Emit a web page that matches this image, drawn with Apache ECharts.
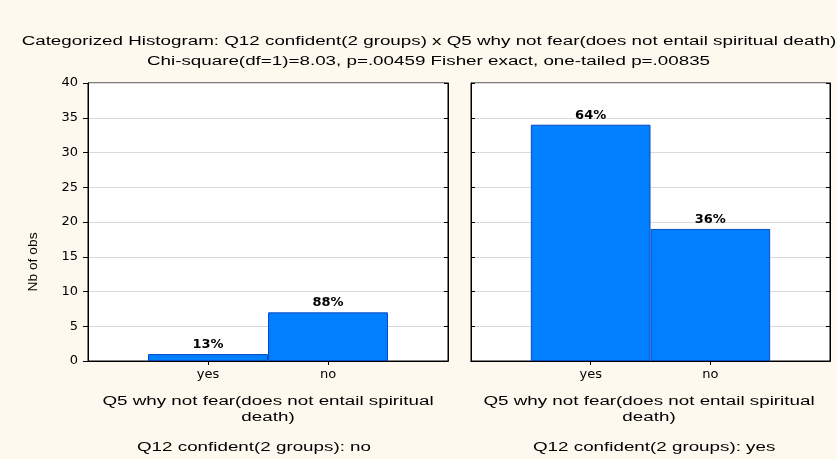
<!DOCTYPE html>
<html><head><meta charset="utf-8">
<script src="https://cdn.jsdelivr.net/npm/echarts@6/dist/echarts.min.js"></script>
<style>html,body{margin:0;padding:0;background:#fdf9ee}#c{width:837px;height:459px}</style>
</head><body><div id="c"></div>
<script>
// ---- data ----
const categories = ['yes', 'no'];
const countsGroupNo = [1, 7];     // Q12 confident(2 groups): no
const countsGroupYes = [34, 19];  // Q12 confident(2 groups): yes
const pctGroupNo = ['13%', '88%'];
const pctGroupYes = ['64%', '36%'];
const yMin = 0, yMax = 40, yStep = 5;
const titleLines = [
  'Categorized Histogram: Q12 confident(2 groups) x Q5 why not fear(does not entail spiritual death)',
  'Chi-square(df=1)=8.03, p=.00459 Fisher exact, one-tailed p=.00835'
];
const xNameLines = ['Q5 why not fear(does not entail spiritual', 'death)'];
const panelNames = ['Q12 confident(2 groups): no', 'Q12 confident(2 groups): yes'];
const yName = 'Nb of obs';

// ---- build ----
const axisCats = [''].concat(categories, ['']);
const panels = [
  {counts: countsGroupNo, pct: pctGroupNo},
  {counts: countsGroupYes, pct: pctGroupYes}
];
const S = 1.566;
const tickFont = 'DejaVu Sans';
const txtFont = '"Liberation Sans", Arial, sans-serif';

const grids = [
  {left: 88, top: 83, width: 360, height: 278},
  {left: 471, top: 83, width: 359, height: 278}
].map(g => Object.assign(g, {show: true, backgroundColor: '#ffffff', borderColor: '#000', borderWidth: 1, containLabel: false}));

const xAxes = [], yAxes = [], series = [];
panels.forEach((p, g) => {
  ['bottom', 'top'].forEach(pos => {
    xAxes.push({
      type: 'category', gridIndex: g, position: pos, data: axisCats, boundaryGap: false,
      axisLine: {show: true, lineStyle: {color: '#000', width: 1}},
      axisTick: {show: true, inside: true, length: 4, interval: (i) => i === 1 || i === 2, lineStyle: {color: '#000'}},
      axisLabel: {show: pos === 'bottom', interval: 0, margin: 7, color: '#000', fontFamily: tickFont, fontSize: 13},
      splitLine: {show: false}
    });
  });
  ['left', 'right'].forEach(pos => {
    const outer = (g === 0 && pos === 'left');
    yAxes.push({
      type: 'value', gridIndex: g, position: pos, min: yMin, max: yMax, interval: yStep,
      axisLine: {show: true, lineStyle: {color: '#000', width: 1}},
      axisTick: {show: true, inside: !outer, length: outer ? 5 : 4, lineStyle: {color: '#000'}},
      axisLabel: {show: outer, margin: 10, color: '#000', fontFamily: tickFont, fontSize: 13},
      splitLine: {show: pos === 'left', lineStyle: {color: '#d9d9d9', width: 1}}
    });
  });
  series.push({
    type: 'bar', xAxisIndex: 2 * g, yAxisIndex: 2 * g,
    data: ['-'].concat(p.counts, ['-']),
    barWidth: '100%',
    itemStyle: {color: '#0080ff', borderColor: '#0a4bc4', borderWidth: 1},
    label: {
      show: true, position: 'top', distance: 3, color: '#000',
      fontFamily: tickFont, fontWeight: 'bold', fontSize: 13,
      formatter: (prm) => p.pct[prm.dataIndex - 1]
    },
    silent: true
  });
});

function txt(text, x, y, opts) {
  opts = opts || {};
  return {
    type: 'text', x: x, y: y, scaleX: opts.scaleX || S, scaleY: opts.scaleY || 1,
    rotation: opts.rotation || 0, silent: true,
    style: {
      text: text, fill: '#000', font: '12px ' + txtFont, fontSize: 12, fontFamily: txtFont,
      align: opts.align || 'center', verticalAlign: 'middle',
      textAlign: opts.align || 'center', textVerticalAlign: 'middle'
    }
  };
}

const graphics = [
  txt(titleLines[0], 429, 42),
  txt(titleLines[1], 428.5, 61.5),
  txt(xNameLines[0], 268, 402),
  txt(xNameLines[1], 268, 418),
  txt(xNameLines[0], 649, 402),
  txt(xNameLines[1], 649, 418),
  txt(panelNames[0], 137, 447.5, {align: 'left'}),
  txt(panelNames[1], 533, 447.5, {align: 'left'}),
  txt(yName, 34, 262, {rotation: Math.PI / 2, scaleX: 1.15, scaleY: 1.05})
];

const chart = echarts.init(document.getElementById('c'), null, {renderer: 'canvas'});
chart.setOption({
  backgroundColor: '#fdf9ee',
  animation: false,
  grid: grids,
  xAxis: xAxes,
  yAxis: yAxes,
  series: series,
  graphic: graphics
});
</script>
</body></html>
